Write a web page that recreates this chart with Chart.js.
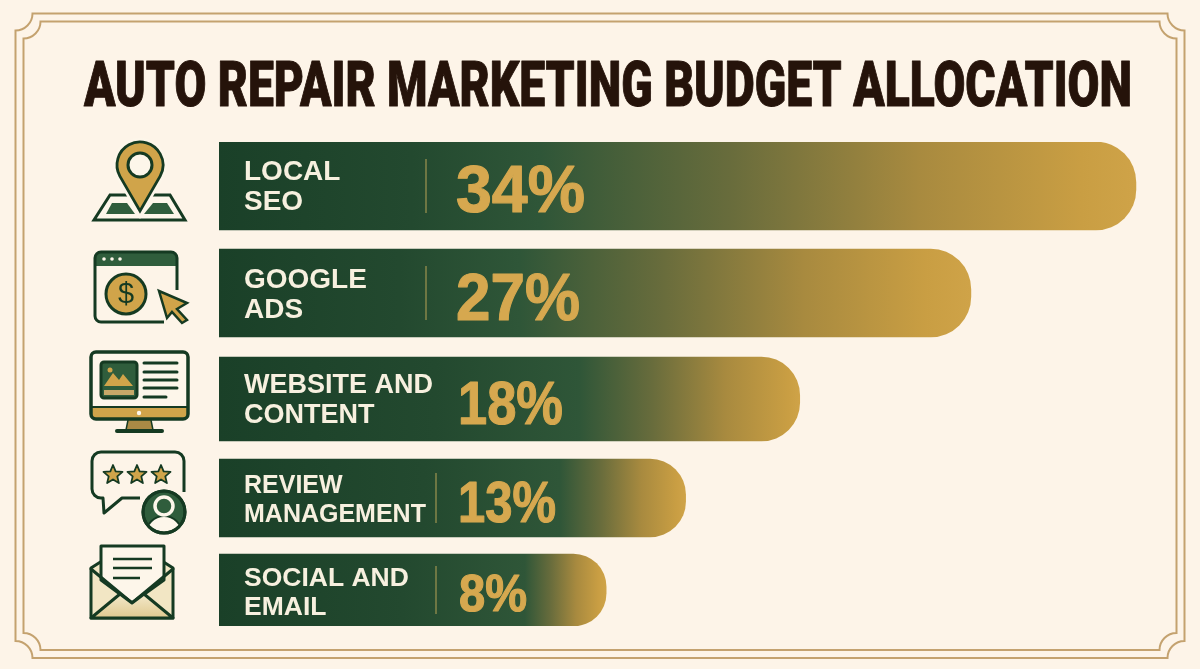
<!DOCTYPE html>
<html>
<head>
<meta charset="utf-8">
<title>Auto Repair Marketing Budget Allocation</title>
<script src="https://cdn.jsdelivr.net/npm/chart.js@4/dist/chart.umd.min.js"></script>
<style>
  html, body { margin: 0; padding: 0; background: #fdf4e8; }
  canvas { display: block; }
</style>
</head>
<body>
<canvas id="budgetChart" width="1200" height="669"></canvas>
<script>
const chartTitle = 'AUTO REPAIR MARKETING BUDGET ALLOCATION';
const categories = [['LOCAL', 'SEO'], ['GOOGLE', 'ADS'], ['WEBSITE AND', 'CONTENT'], ['REVIEW', 'MANAGEMENT'], ['SOCIAL AND', 'EMAIL']];
const shareLabels = ['34%', '27%', '18%', '13%', '8%'];
// bar ends, they are not strictly proportional to the printed shares
const barValues = [34.6, 26.5, 18.1, 12.5, 8.6];

// layout
const axisMin = -10.4;
const axisMax = 34.8;
const rowHeights = [88, 88, 84, 78, 72];
const rowGaps = [19, 20, 18, 17];
const gradientStarts = [0.35, 0.40, 0.62, 0.73, 0.79];
const gradientEnds = [0.94, 0.94, 0.98, 0.98, 0.98];
const labelSizes = [28, 28, 27, 25, 26.5];
const labelOffsets = [[-14, 16], [-13, 17], [-13, 17], [-12, 17], [-11, 18]];
const shareSizes = [66, 66, 62, 58, 52];
const shareX = [456, 456, 458, 458, 459];
const shareWidths = [129, 124, 105, 98, 68];
const shareBaselines = [26, 27, 25, 24, 21];
const dividerX = [426, 426, null, 436, 436];
const dividerHalf = [27, 27, 0, 25, 24];

const DARK = '#153a22';
const GREEN = '#2f5d3c';
const GOLD = '#d0a44a';
const CREAM = '#fdf6ea';
const FRAME = '#c4a26f';

// category scale with rows of unequal height and spacing
class RowScale extends Chart.CategoryScale {
  getPixelForValue(value, index) {
    const row = index === undefined ? value : index;
    let y = this.top;
    for (let j = 0; j < row; j++) y += rowHeights[j] + rowGaps[j];
    return y + rowHeights[row] / 2;
  }
}
RowScale.id = 'rows';
RowScale.defaults = Chart.CategoryScale.defaults;
Chart.register(RowScale);

function barGradient(context, i) {
  const chart = context.chart;
  if (!chart.chartArea) return GREEN;
  const left = chart.chartArea.left;
  const right = chart.scales.x.getPixelForValue(barValues[i]);
  const g = chart.ctx.createLinearGradient(left, 0, right, 0);
  const s = gradientStarts[i];
  const e = gradientEnds[i];
  g.addColorStop(0, '#1a4028');
  g.addColorStop(s * 0.6, '#23492f');
  g.addColorStop(s, '#2f5638');
  g.addColorStop(s + (e - s) * 0.35, '#686c3c');
  g.addColorStop(s + (e - s) * 0.7, '#a88a3f');
  g.addColorStop(e, '#c99e43');
  g.addColorStop(1, '#cfa348');
  return g;
}

function poly(ctx, pts, fill, stroke, lw) {
  ctx.beginPath();
  pts.forEach((p, k) => k ? ctx.lineTo(p[0], p[1]) : ctx.moveTo(p[0], p[1]));
  ctx.closePath();
  if (fill) { ctx.fillStyle = fill; ctx.fill(); }
  if (stroke) { ctx.strokeStyle = stroke; ctx.lineWidth = lw; ctx.stroke(); }
}

function line(ctx, x1, y1, x2, y2, color, lw) {
  ctx.beginPath();
  ctx.moveTo(x1, y1);
  ctx.lineTo(x2, y2);
  ctx.strokeStyle = color;
  ctx.lineWidth = lw;
  ctx.stroke();
}

function circle(ctx, x, y, r, fill, stroke, lw) {
  ctx.beginPath();
  ctx.arc(x, y, r, 0, Math.PI * 2);
  if (fill) { ctx.fillStyle = fill; ctx.fill(); }
  if (stroke) { ctx.strokeStyle = stroke; ctx.lineWidth = lw; ctx.stroke(); }
}

function drawFrame(ctx, l, t, r, b, c) {
  ctx.beginPath();
  ctx.moveTo(l + c, t);
  ctx.lineTo(r - c, t);
  ctx.arc(r, t, c, Math.PI, Math.PI / 2, true);
  ctx.lineTo(r, b - c);
  ctx.arc(r, b, c, -Math.PI / 2, Math.PI, true);
  ctx.lineTo(l + c, b);
  ctx.arc(l, b, c, 0, -Math.PI / 2, true);
  ctx.lineTo(l, t + c);
  ctx.arc(l, t, c, Math.PI / 2, 0, true);
  ctx.closePath();
  ctx.strokeStyle = FRAME;
  ctx.lineWidth = 2;
  ctx.stroke();
}

function iconPin(ctx) {
  poly(ctx, [[110, 195], [94, 220], [185, 220], [170, 195]], CREAM, DARK, 3);
  poly(ctx, [[112, 203], [106, 214], [135, 214], [127, 203]], GREEN);
  poly(ctx, [[153, 203], [167, 203], [174, 214], [144, 214]], GREEN);
  ctx.beginPath();
  ctx.arc(140, 165, 23, Math.PI * 0.84, Math.PI * 0.16);
  ctx.lineTo(140, 211);
  ctx.closePath();
  ctx.strokeStyle = CREAM;
  ctx.lineWidth = 8;
  ctx.stroke();
  ctx.fillStyle = GOLD;
  ctx.fill();
  ctx.strokeStyle = DARK;
  ctx.lineWidth = 2.8;
  ctx.stroke();
  circle(ctx, 140, 165, 12, CREAM, DARK, 3);
}

function iconBrowser(ctx) {
  ctx.beginPath();
  ctx.roundRect(95, 252, 82, 14, [6, 6, 0, 0]);
  ctx.fillStyle = GREEN;
  ctx.fill();
  ctx.beginPath();
  ctx.moveTo(164, 322);
  ctx.lineTo(101, 322);
  ctx.arcTo(95, 322, 95, 316, 6);
  ctx.lineTo(95, 258);
  ctx.arcTo(95, 252, 101, 252, 6);
  ctx.lineTo(171, 252);
  ctx.arcTo(177, 252, 177, 258, 6);
  ctx.lineTo(177, 290);
  ctx.strokeStyle = DARK;
  ctx.lineWidth = 3;
  ctx.stroke();
  [104, 112, 120].forEach(x => circle(ctx, x, 259, 1.8, CREAM));
  circle(ctx, 126, 294, 20, GOLD, DARK, 3);
  ctx.fillStyle = DARK;
  ctx.font = '29px "Liberation Sans"';
  ctx.textAlign = 'center';
  ctx.textBaseline = 'middle';
  ctx.fillText('$', 126, 295);
  poly(ctx, [[159, 291], [187, 303], [177, 309], [187, 320], [182, 323], [172, 312], [167, 318]], GOLD, DARK, 2.5);
}

function iconMonitor(ctx) {
  ctx.beginPath();
  ctx.roundRect(91, 352, 97, 67, 5);
  ctx.fillStyle = CREAM;
  ctx.fill();
  ctx.beginPath();
  ctx.rect(92, 408, 95, 10);
  ctx.fillStyle = GOLD;
  ctx.fill();
  line(ctx, 91, 407, 188, 407, DARK, 2);
  ctx.beginPath();
  ctx.roundRect(91, 352, 97, 67, 5);
  ctx.strokeStyle = DARK;
  ctx.lineWidth = 3.5;
  ctx.stroke();
  circle(ctx, 139, 413, 2.2, CREAM);
  poly(ctx, [[128, 420], [151, 420], [153, 430], [126, 430]], '#a98a45', DARK, 1.5);
  ctx.lineCap = 'round';
  line(ctx, 117, 431, 162, 431, DARK, 4);
  ctx.beginPath();
  ctx.roundRect(101, 362, 36, 36, 3);
  ctx.fillStyle = GREEN;
  ctx.fill();
  ctx.strokeStyle = DARK;
  ctx.lineWidth = 3;
  ctx.stroke();
  circle(ctx, 110, 370, 2.5, GOLD);
  poly(ctx, [[104, 386], [113, 373], [119, 380], [123, 374], [133, 386]], GOLD);
  ctx.fillStyle = '#c6a869';
  ctx.fillRect(104, 390, 30, 5);
  [363, 372, 380, 388].forEach(y => line(ctx, 144, y, 177, y, DARK, 3));
  line(ctx, 144, 397, 166, 397, DARK, 3);
  ctx.lineCap = 'butt';
}

function star(ctx, cx, cy, r) {
  const pts = [];
  for (let k = 0; k < 10; k++) {
    const a = -Math.PI / 2 + k * Math.PI / 5;
    const q = k % 2 ? r * 0.45 : r;
    pts.push([cx + q * Math.cos(a), cy + q * Math.sin(a)]);
  }
  poly(ctx, pts, GOLD, DARK, 1.8);
}

function iconReview(ctx) {
  ctx.beginPath();
  ctx.moveTo(140, 498);
  ctx.lineTo(122, 498);
  ctx.lineTo(104, 513);
  ctx.lineTo(103, 498);
  ctx.arcTo(92, 498, 92, 488, 9);
  ctx.lineTo(92, 461);
  ctx.arcTo(92, 452, 101, 452, 9);
  ctx.lineTo(175, 452);
  ctx.arcTo(184, 452, 184, 461, 9);
  ctx.lineTo(184, 492);
  ctx.strokeStyle = DARK;
  ctx.lineWidth = 3;
  ctx.lineJoin = 'round';
  ctx.stroke();
  [113, 137, 161].forEach(x => star(ctx, x, 475, 10));
  circle(ctx, 164, 512, 21, GREEN, DARK, 3);
  ctx.save();
  ctx.beginPath();
  ctx.arc(164, 512, 19.5, 0, Math.PI * 2);
  ctx.clip();
  circle(ctx, 164, 534, 18, CREAM, DARK, 2);
  ctx.restore();
  circle(ctx, 164, 506, 9, GREEN, CREAM, 3.5);
  circle(ctx, 164, 512, 21, null, DARK, 3);
}

function iconEnvelope(ctx) {
  ctx.lineJoin = 'round';
  poly(ctx, [[91, 568], [102, 561], [162, 561], [173, 568], [173, 618], [91, 618]], '#f2e6c4', DARK, 3);
  poly(ctx, [[101, 546], [164, 546], [164, 580], [132, 603], [101, 580]], CREAM, DARK, 3);
  [[113, 152, 559], [113, 152, 568], [113, 140, 578]].forEach(s => line(ctx, s[0], s[2], s[1], s[2], DARK, 2.5));
  ctx.lineCap = 'round';
  line(ctx, 91, 569, 132, 603, DARK, 3);
  line(ctx, 173, 569, 132, 603, DARK, 3);
  const g = ctx.createLinearGradient(0, 595, 0, 618);
  g.addColorStop(0, '#f3e8c8');
  g.addColorStop(1, '#dfc98f');
  poly(ctx, [[91, 618], [120, 594], [132, 603], [144, 594], [173, 618]], g, DARK, 3);
  ctx.lineCap = 'butt';
}

const decorPlugin = {
  id: 'decor',
  beforeDatasetsDraw(chart) {
    const ctx = chart.ctx;
    ctx.save();
    drawFrame(ctx, 15.5, 13.5, 1184.5, 658, 17);
    drawFrame(ctx, 23.5, 21.5, 1176.5, 650, 17);
    [iconPin, iconBrowser, iconMonitor, iconReview, iconEnvelope].forEach(fn => {
      ctx.save();
      fn(ctx);
      ctx.restore();
    });
    ctx.restore();
  }
};

const textPlugin = {
  id: 'barText',
  afterDatasetsDraw(chart) {
    const ctx = chart.ctx;
    const y = chart.scales.y;
    ctx.save();
    ctx.textAlign = 'left';
    ctx.textBaseline = 'alphabetic';

    ctx.font = '900 63px Roboto, "Liberation Sans"';
    ctx.fillStyle = '#25130a';
    ctx.strokeStyle = '#25130a';
    ctx.lineWidth = 1;
    ctx.lineJoin = 'round';
    ctx.strokeText(chartTitle, 84, 105.5, 1048);
    ctx.fillText(chartTitle, 84, 105.5, 1048);

    categories.forEach((lines, i) => {
      const cy = y.getPixelForValue(i, i);
      ctx.font = 'bold ' + labelSizes[i] + 'px "Liberation Sans"';
      ctx.textBaseline = 'middle';
      ctx.fillStyle = '#f7f0df';
      lines.forEach((text, k) => ctx.fillText(text, 244, cy + labelOffsets[i][k]));

      if (dividerX[i]) {
        line(ctx, dividerX[i], cy - dividerHalf[i], dividerX[i], cy + dividerHalf[i], '#8e8a4c', 1.4);
      }

      ctx.font = 'bold ' + shareSizes[i] + 'px "Liberation Sans"';
      ctx.textBaseline = 'alphabetic';
      ctx.fillStyle = '#d6a84f';
      ctx.strokeStyle = '#d6a84f';
      ctx.lineWidth = 1.2;
      ctx.lineJoin = 'round';
      ctx.strokeText(shareLabels[i], shareX[i], cy + shareBaselines[i], shareWidths[i]);
      ctx.fillText(shareLabels[i], shareX[i], cy + shareBaselines[i], shareWidths[i]);
    });
    ctx.restore();
  }
};

new Chart(document.getElementById('budgetChart').getContext('2d'), {
  type: 'bar',
  data: {
    labels: categories,
    datasets: categories.map((_, i) => ({
      label: shareLabels[i],
      data: categories.map((__, j) => j === i ? [axisMin, barValues[i]] : null),
      stack: 'rows',
      barThickness: rowHeights[i],
      backgroundColor: context => barGradient(context, i),
      borderSkipped: false,
      borderRadius: {
        topLeft: 0,
        bottomLeft: 0,
        topRight: rowHeights[i] * 0.46,
        bottomRight: rowHeights[i] * 0.46
      }
    }))
  },
  options: {
    indexAxis: 'y',
    responsive: false,
    animation: false,
    layout: { padding: { left: 219, right: 60, top: 142, bottom: 43 } },
    plugins: {
      legend: { display: false },
      title: { display: false },
      tooltip: { enabled: false }
    },
    scales: {
      x: { type: 'linear', display: false, min: axisMin, max: axisMax, grid: { display: false } },
      y: { type: 'rows', display: false, grid: { display: false } }
    }
  },
  plugins: [decorPlugin, textPlugin]
});
</script>
</body>
</html>
